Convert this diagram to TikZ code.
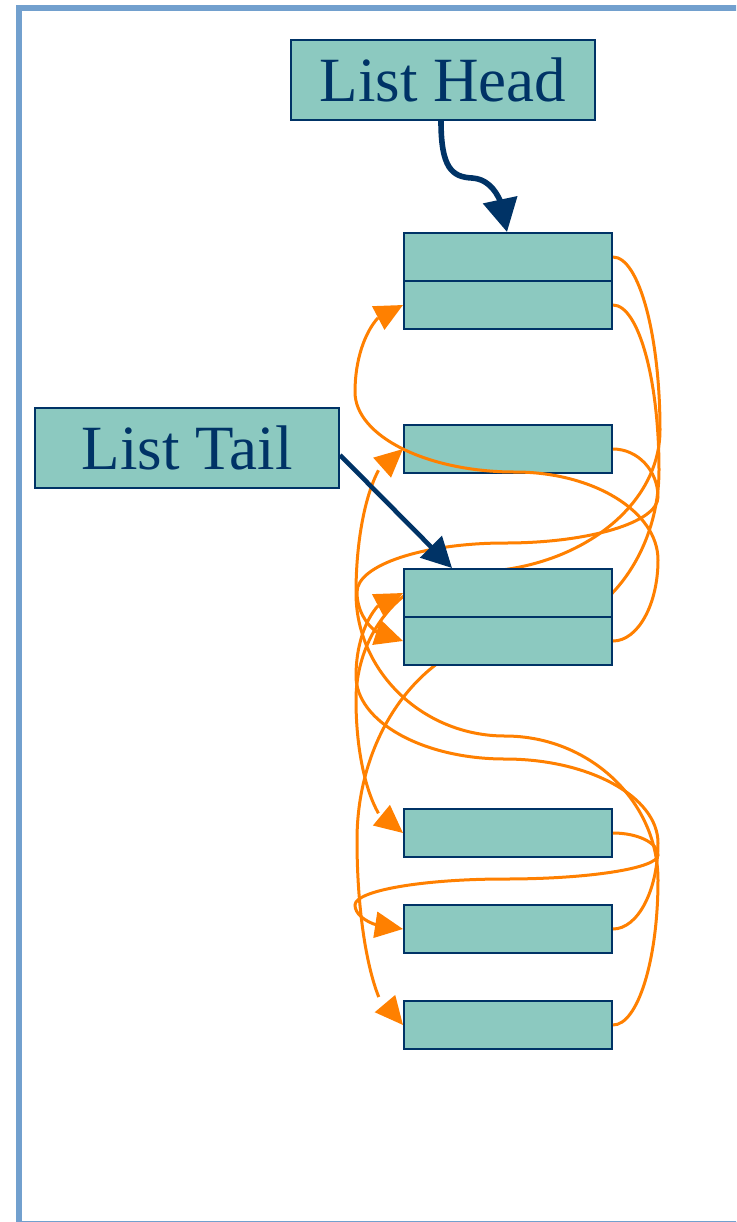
\documentclass[tikz,border=0pt]{standalone}
\usepackage{fontspec}
\setmainfont{Liberation Serif}
\usetikzlibrary{arrows.meta,bending,calc}
\pgfdeclarelayer{paper}
\pgfdeclarelayer{back}
\pgfsetlayers{paper,back,main}

\definecolor{navy}{HTML}{003366}
\definecolor{cellfill}{HTML}{8CC9C0}
\definecolor{ptrorange}{HTML}{FF8000}
\definecolor{framecol}{HTML}{72A0CE}

\tikzset{
  cell/.style={draw=navy, line width=1pt, fill=cellfill, minimum width=104pt,
    minimum height=24pt, inner sep=0pt, anchor=north west},
  labelbox/.style={draw=navy, line width=1pt, fill=cellfill, minimum width=152pt,
    minimum height=40pt, inner sep=0pt, text=navy,
    font=\fontsize{31.5pt}{36pt}\selectfont},
  ptr/.style={draw=ptrorange, line width=1.5pt,
    -{Triangle[length=14pt,width=13pt,flex]}},
  navyline/.style={draw=navy, line cap=butt},
}

% pointer curve: leaves #1 to the right, turns at #2, crosses at #3,
% turns back at #4 and enters #5 from the left
\newcommand\kk{0.55}
\newcommand\ptrlink[5]{%
  \draw[ptr] (#1)
    .. controls ($(#1)!\kk!(#2 |- #1)$) and ($(#2)!\kk!(#2 |- #1)$) .. (#2)
    .. controls ($(#2)!\kk!(#2 |- #3)$) and ($(#3)!\kk!(#2 |- #3)$) .. (#3)
    .. controls ($(#3)!\kk!(#4 |- #3)$) and ($(#4)!\kk!(#4 |- #3)$) .. (#4)
    .. controls ($(#4)!\kk!(#4 |- #5)$) and ($(#5)!\kk!(#4 |- #5)$) .. (#5);}

\begin{document}
\begin{tikzpicture}[x=0.5pt,y=-0.5pt]
\useasboundingbox (0,0) rectangle (736,1222);
\begin{pgfonlayer}{paper}
  \fill[white] (0,0) rectangle (736,1222);
  \begin{scope}
    \clip (0,0) rectangle (736,1222);
    \draw[framecol, line width=3pt] (19,8) rectangle (770,1223.5);
  \end{scope}
\end{pgfonlayer}

% list ends
\node[labelbox] (head) at (443,80) {List Head};
\node[labelbox] (tail) at (187,448) {List Tail};

% list elements
\node[cell] (a1) at (403,232) {};
\node[cell] (a2) at (403,280) {};
\node[cell] (b)  at (403,424) {};
\node[cell] (c1) at (403,568) {};
\node[cell] (c2) at (403,616) {};
\node[cell] (d)  at (403,808) {};
\node[cell] (e)  at (403,904) {};
\node[cell] (f)  at (403,1000) {};

% turning points of the pointer curves
\coordinate (r1) at (658,560); \coordinate (m1) at (515,472); \coordinate (l1) at (355,392);
\coordinate (r2) at (658,497); \coordinate (m2) at (505,543); \coordinate (l2) at (357,592);
\coordinate (r3) at (660,430); \coordinate (m3) at (470,572); \coordinate (l3) at (356,700);
\coordinate (r4) at (659,470); \coordinate (m4) at (520,635); \coordinate (l4) at (357,840);
\coordinate (r5) at (658,855); \coordinate (m5) at (505,879); \coordinate (l5) at (355,905);
\coordinate (r6) at (658,843); \coordinate (m6) at (505,759); \coordinate (l6) at (356,676);
\coordinate (r7) at (658,880); \coordinate (m7) at (505,736); \coordinate (l7) at (356,593);

% pointers that run behind the middle element
\begin{pgfonlayer}{back}
  \ptrlink{a1.east}{r3}{m3}{l3}{d.west}
  \ptrlink{a2.east}{r4}{m4}{l4}{f.west}
\end{pgfonlayer}

% remaining pointers
\ptrlink{c2.east}{r1}{m1}{l1}{a2.west}
\ptrlink{b.east}{r2}{m2}{l2}{c2.west}
\ptrlink{d.east}{r5}{m5}{l5}{e.west}
\ptrlink{e.east}{r6}{m6}{l6}{c1.west}
\ptrlink{f.east}{r7}{m7}{l7}{b.west}

% head and tail references
\coordinate (headtip) at ([xshift=52pt]a1.north west);
\coordinate (tailtip) at ([xshift=24.5pt]c1.north west);
\draw[navyline, line width=2.8pt, -{Triangle[length=16.5pt,width=17pt,flex]}]
  ([xshift=-1pt]head.south) .. controls (441,168) and (452,177) .. (472,178)
  .. controls (492,179) and (505,200) .. (headtip);
\draw[navyline, line width=2.3pt, -{Triangle[length=15pt,width=15pt]}]
  ([yshift=-3.5pt]tail.east) -- (tailtip);
\end{tikzpicture}
\end{document}
